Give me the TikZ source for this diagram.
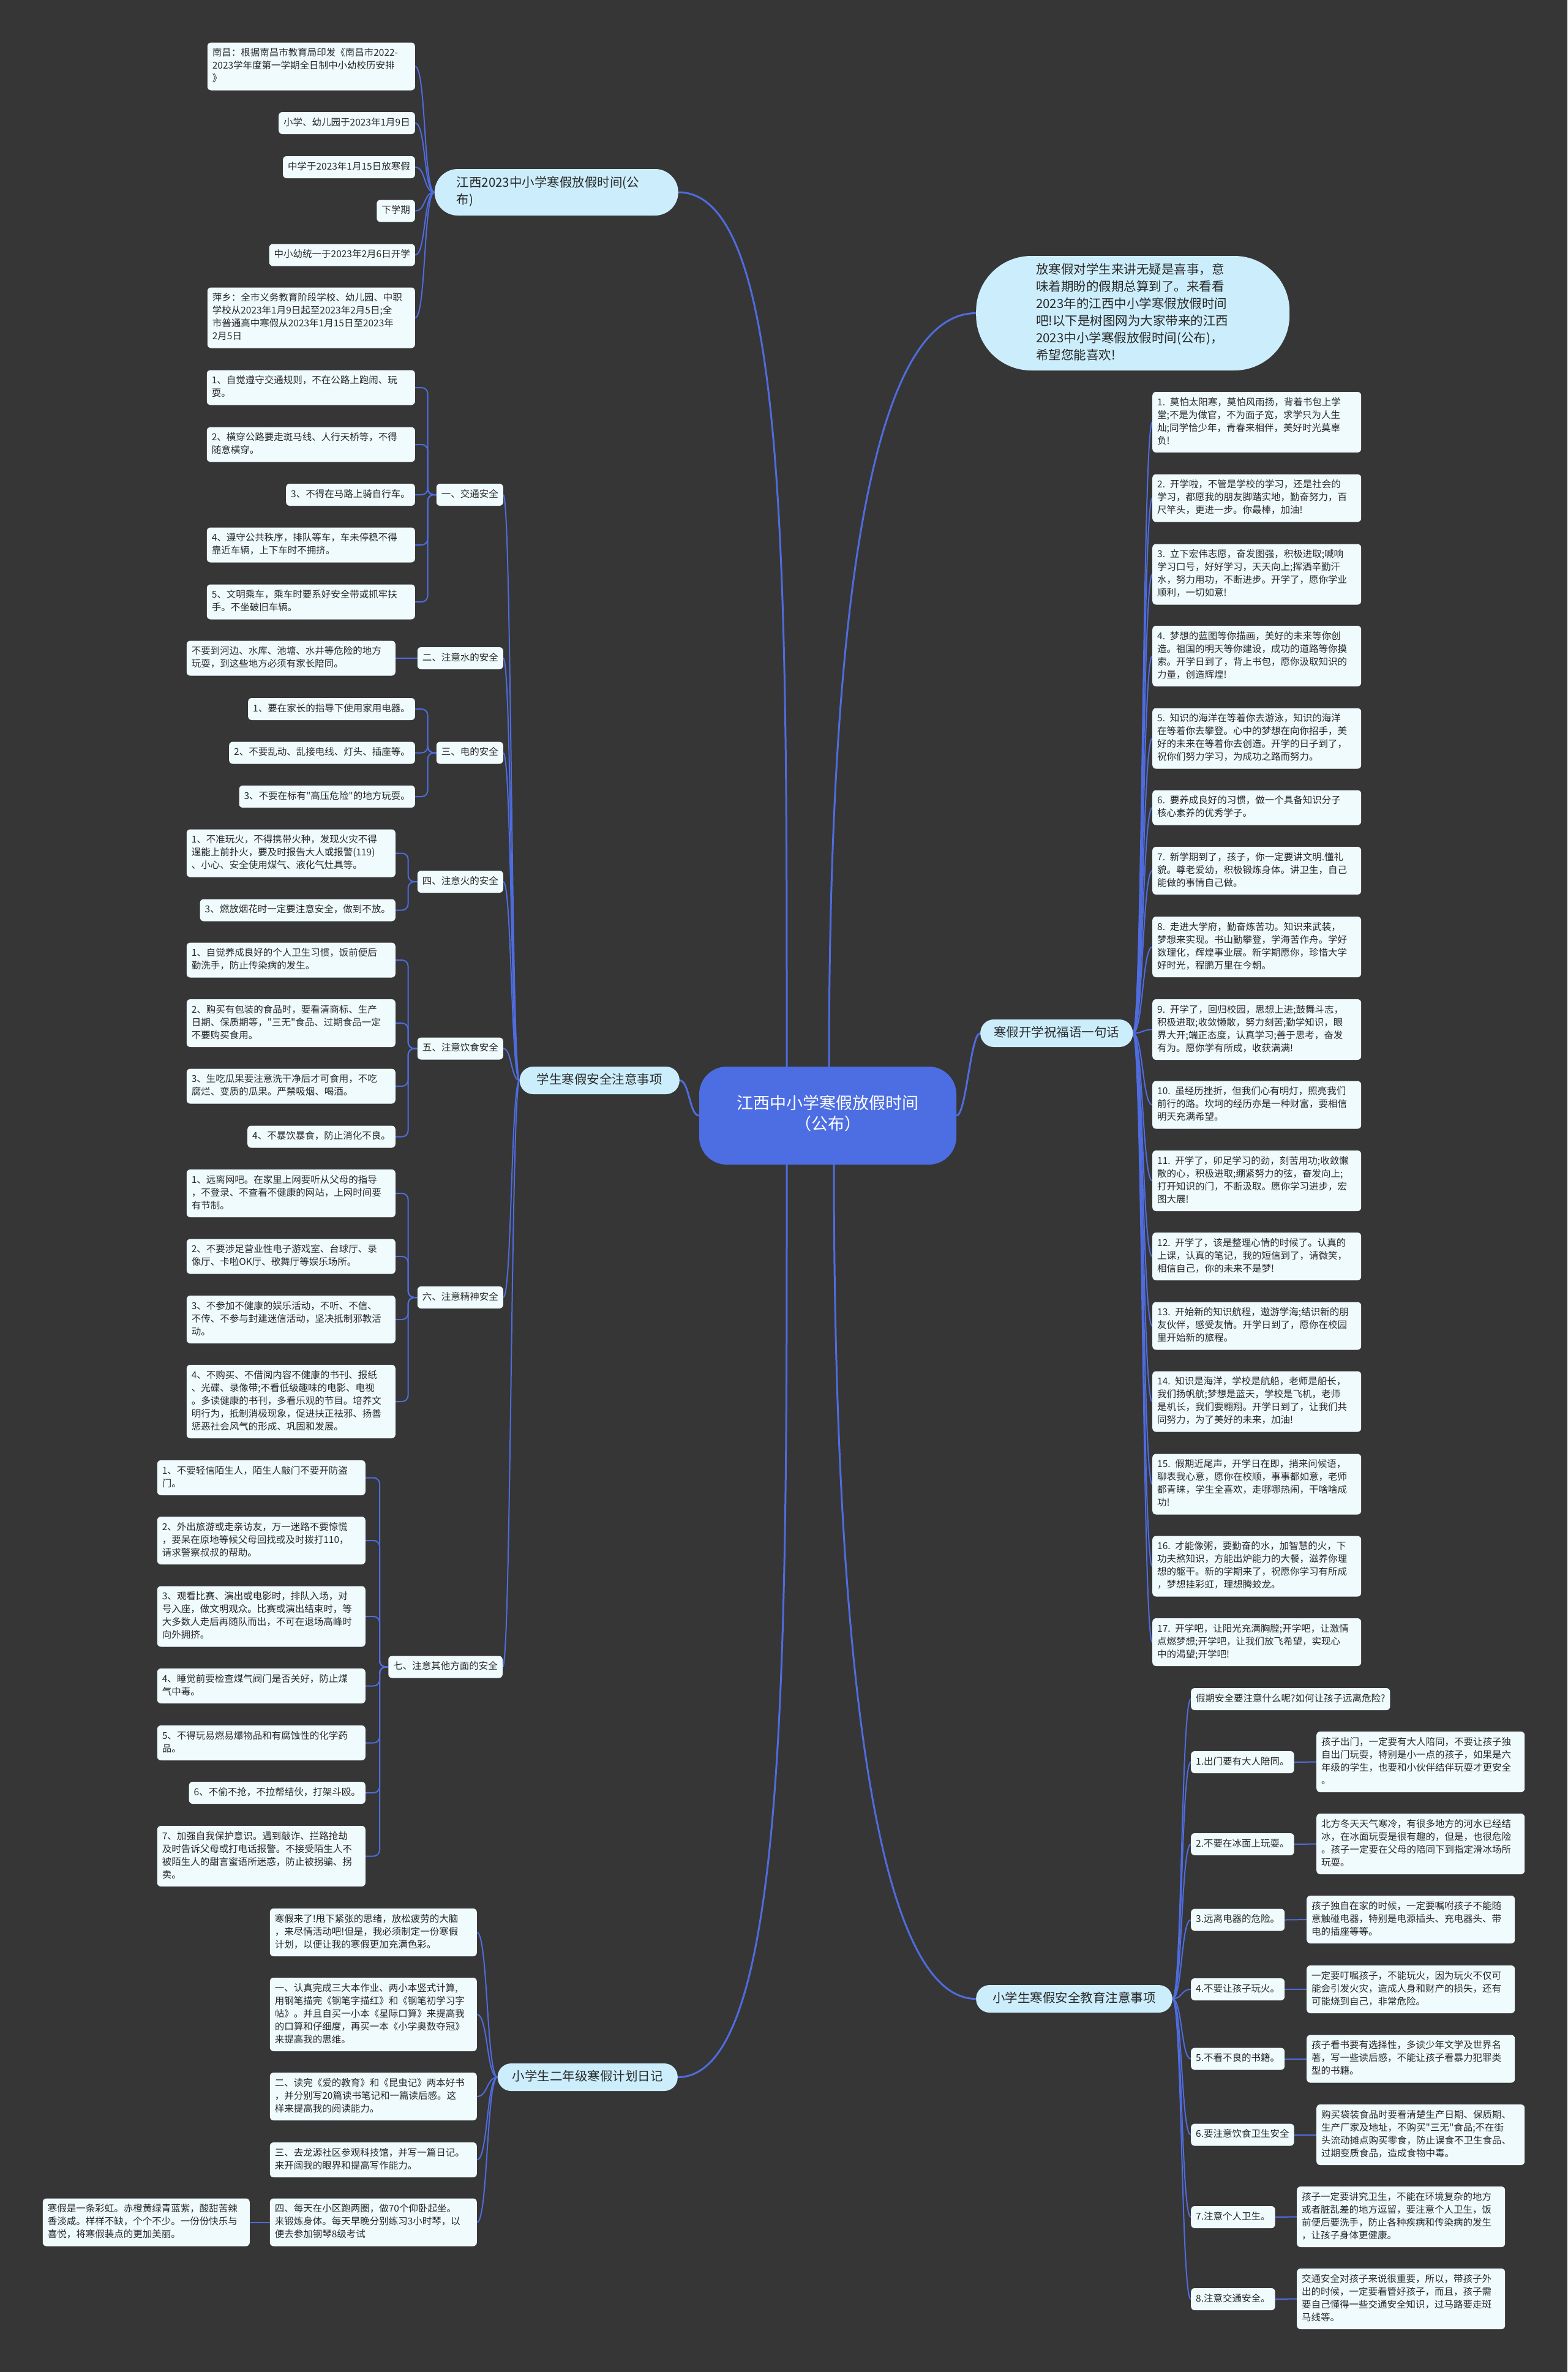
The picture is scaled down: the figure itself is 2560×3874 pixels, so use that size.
\documentclass[tikz,border=0pt]{standalone}
\usepackage{fontspec}
\setmainfont{Noto Sans CJK SC}[Ligatures=TeXOff]
\definecolor{bgDark}{RGB}{54,54,54}
\definecolor{lineBlue}{RGB}{79,108,222}
\definecolor{rootBlue}{RGB}{77,110,226}
\definecolor{branchSky}{RGB}{204,238,252}
\definecolor{leafWhite}{RGB}{240,251,254}
\definecolor{textDark}{RGB}{40,40,40}
\pgfdeclarelayer{bg}
\pgfdeclarelayer{links}
\pgfsetlayers{bg,links,main}

\begin{document}
\begin{tikzpicture}[x=1pt, y=-1pt,
    root/.style={rectangle, rounded corners=45pt, fill=rootBlue, text=white,
      font=\fontsize{27}{34}\selectfont, align=center, text width=300pt,
      inner xsep=60pt, inner ysep=46pt,
      execute at begin node=\strut, execute at end node=\strut},
    branch/.style={rectangle, rounded corners=22pt, fill=branchSky, text=textDark,
      font=\fontsize{20.5}{28}\selectfont, inner xsep=26pt, inner ysep=8.5pt,
      execute at begin node=\strut, execute at end node=\strut},
    leaf/.style={rectangle, rounded corners=6pt, fill=leafWhite, text=textDark,
      font=\fontsize{15.5}{21}\selectfont, align=left, inner xsep=8pt, inner ysep=7.5pt,
      execute at begin node=\strut, execute at end node=\strut},
    link/.style={draw=lineBlue, line width=2pt},
    mainlink/.style={draw=lineBlue, line width=3pt},
  ]
  \useasboundingbox (0,0) rectangle (2560,3874);
  \begin{pgfonlayer}{bg}
    \fill[bgDark] (0,0) rectangle (2560,3874);
  \end{pgfonlayer}

  % root and main branches
  \node[root] (ctr) at (1352,1822) {江西中小学寒假放假时间\\（公布）};
  \node[branch, anchor=east, align=left, text width=326pt, inner xsep=36pt, inner ysep=10pt, rounded corners=38pt] (bTime) at (1108,314) {江西2023中小学寒假放假时间(公\\布)};
  \node[branch, anchor=east, inner xsep=28pt] (bSafe) at (1110,1764.5) {学生寒假安全注意事项};
  \node[branch, anchor=east, inner xsep=24pt] (bDiary) at (1107,3392.5) {小学生二年级寒假计划日记};
  \node[branch, anchor=west, align=left, text width=316pt, inner xsep=98pt, inner ysep=9.5pt, rounded corners=90pt] (rIntro) at (1594,511.5) {放寒假对学生来讲无疑是喜事，意\\味着期盼的假期总算到了。来看看\\2023年的江西中小学寒假放假时间\\吧!以下是树图网为大家带来的江西\\2023中小学寒假放假时间(公布)，\\希望您能喜欢!};
  \node[branch, anchor=west, inner xsep=22pt] (rWish) at (1601,1687.5) {寒假开学祝福语一句话};
  \node[branch, anchor=west, inner xsep=27pt] (rEdu) at (1594,3264.5) {小学生寒假安全教育注意事项};

  % dates
  \node[leaf, anchor=east, text width=323pt] (t1) at (678,108.5) {南昌：根据南昌市教育局印发《南昌市2022-\\2023学年度第一学期全日制中小幼校历安排\\》};
  \node[leaf, anchor=east] (t2) at (678,201) {小学、幼儿园于2023年1月9日};
  \node[leaf, anchor=east] (t3) at (678,273) {中学于2023年1月15日放寒假};
  \node[leaf, anchor=east] (t4) at (678,344.5) {下学期};
  \node[leaf, anchor=east] (t5) at (678,416.5) {中小幼统一于2023年2月6日开学};
  \node[leaf, anchor=east, text width=323pt] (t6) at (678,519) {萍乡：全市义务教育阶段学校、幼儿园、中职\\学校从2023年1月9日起至2023年2月5日;全\\市普通高中寒假从2023年1月15日至2023年\\2月5日};

  % safety topics
  \node[leaf, anchor=east] (s1) at (822,808) {一、交通安全};
  \node[leaf, anchor=east, text width=324pt] (s1a) at (678,633) {1、自觉遵守交通规则，不在公路上跑闹、玩\\耍。};
  \node[leaf, anchor=east, text width=324pt] (s1b) at (678,726) {2、横穿公路要走斑马线、人行天桥等，不得\\随意横穿。};
  \node[leaf, anchor=east] (s1c) at (678,808) {3、不得在马路上骑自行车。};
  \node[leaf, anchor=east, text width=324pt] (s1d) at (678,890) {4、遵守公共秩序，排队等车，车未停稳不得\\靠近车辆，上下车时不拥挤。};
  \node[leaf, anchor=east, text width=324pt] (s1e) at (678,983) {5、文明乘车，乘车时要系好安全带或抓牢扶\\手。不坐破旧车辆。};

  \node[leaf, anchor=east] (s2) at (822,1075) {二、注意水的安全};
  \node[leaf, anchor=east, text width=325pt] (s2a) at (646,1075) {不要到河边、水库、池塘、水井等危险的地方\\玩耍，到这些地方必须有家长陪同。};

  \node[leaf, anchor=east] (s3) at (822,1229.5) {三、电的安全};
  \node[leaf, anchor=east] (s3a) at (678,1158) {1、要在家长的指导下使用家用电器。};
  \node[leaf, anchor=east] (s3b) at (678,1229.5) {2、不要乱动、乱接电线、灯头、插座等。};
  \node[leaf, anchor=east] (s3c) at (678,1301) {3、不要在标有"高压危险"的地方玩耍。};

  \node[leaf, anchor=east] (s4) at (822,1440) {四、注意火的安全};
  \node[leaf, anchor=east, text width=325pt] (s4a) at (646,1393.5) {1、不准玩火，不得携带火种，发现火灾不得\\逞能上前扑火，要及时报告大人或报警(119)\\、小心、安全使用煤气、液化气灶具等。};
  \node[leaf, anchor=east] (s4b) at (646,1486.5) {3、燃放烟花时一定要注意安全，做到不放。};

  \node[leaf, anchor=east] (s5) at (822,1712.5) {五、注意饮食安全};
  \node[leaf, anchor=east, text width=325pt] (s5a) at (646,1568) {1、自觉养成良好的个人卫生习惯，饭前便后\\勤洗手，防止传染病的发生。};
  \node[leaf, anchor=east, text width=325pt] (s5b) at (646,1671) {2、购买有包装的食品时，要看清商标、生产\\日期、保质期等，"三无"食品、过期食品一定\\不要购买食用。};
  \node[leaf, anchor=east, text width=325pt] (s5c) at (646,1774) {3、生吃瓜果要注意洗干净后才可食用，不吃\\腐烂、变质的瓜果。严禁吸烟、喝酒。};
  \node[leaf, anchor=east] (s5d) at (646,1856.5) {4、不暴饮暴食，防止消化不良。};

  \node[leaf, anchor=east] (s6) at (822,2119) {六、注意精神安全};
  \node[leaf, anchor=east, text width=325pt] (s6a) at (646,1949) {1、远离网吧。在家里上网要听从父母的指导\\，不登录、不查看不健康的网站，上网时间要\\有节制。};
  \node[leaf, anchor=east, text width=325pt] (s6b) at (646,2052) {2、不要涉足营业性电子游戏室、台球厅、录\\像厅、卡啦OK厅、歌舞厅等娱乐场所。};
  \node[leaf, anchor=east, text width=325pt] (s6c) at (646,2155) {3、不参加不健康的娱乐活动，不听、不信、\\不传、不参与封建迷信活动，坚决抵制邪教活\\动。};
  \node[leaf, anchor=east, text width=325pt] (s6d) at (646,2289) {4、不购买、不借阅内容不健康的书刊、报纸\\、光碟、录像带;不看低级趣味的电影、电视\\。多读健康的书刊，多看乐观的节目。培养文\\明行为，抵制消极现象，促进扶正祛邪、扬善\\惩恶社会风气的形成、巩固和发展。};

  \node[leaf, anchor=east] (s7) at (821,2722.5) {七、注意其他方面的安全};
  \node[leaf, anchor=east, text width=324pt] (s7a) at (597,2413.5) {1、不要轻信陌生人，陌生人敲门不要开防盗\\门。};
  \node[leaf, anchor=east, text width=324pt] (s7b) at (597,2516) {2、外出旅游或走亲访友，万一迷路不要惊慌\\，要呆在原地等候父母回找或及时拨打110，\\请求警察叔叔的帮助。};
  \node[leaf, anchor=east, text width=324pt] (s7c) at (597,2640) {3、观看比赛、演出或电影时，排队入场，对\\号入座，做文明观众。比赛或演出结束时，等\\大多数人走后再随队而出，不可在退场高峰时\\向外拥挤。};
  \node[leaf, anchor=east, text width=324pt] (s7d) at (597,2753.5) {4、睡觉前要检查煤气阀门是否关好，防止煤\\气中毒。};
  \node[leaf, anchor=east, text width=324pt] (s7e) at (597,2846.5) {5、不得玩易燃易爆物品和有腐蚀性的化学药\\品。};
  \node[leaf, anchor=east] (s7f) at (597,2928) {6、不偷不抢，不拉帮结伙，打架斗殴。};
  \node[leaf, anchor=east, text width=324pt] (s7g) at (597,3031.5) {7、加强自我保护意识。遇到敲诈、拦路抢劫\\及时告诉父母或打电话报警。不接受陌生人不\\被陌生人的甜言蜜语所迷惑，防止被拐骗、拐\\卖。};

  % diary
  \node[leaf, anchor=east, text width=322pt] (d1) at (779,3156) {寒假来了!甩下紧张的思绪，放松疲劳的大脑\\，来尽情活动吧!但是，我必须制定一份寒假\\计划，以便让我的寒假更加充满色彩。};
  \node[leaf, anchor=east, text width=322pt] (d2) at (779,3290) {一、认真完成三大本作业、两小本竖式计算,\\用钢笔描完《钢笔字描红》和《钢笔初学习字\\帖》。并且自买一小本《星际口算》来提高我\\的口算和仔细度，再买一本《小学奥数夺冠》\\来提高我的思维。};
  \node[leaf, anchor=east, text width=322pt] (d3) at (779,3424) {二、读完《爱的教育》和《昆虫记》两本好书\\，并分别写20篇读书笔记和一篇读后感。这\\样来提高我的阅读能力。};
  \node[leaf, anchor=east, text width=322pt] (d4) at (779,3527.5) {三、去龙源社区参观科技馆，并写一篇日记。\\来开阔我的眼界和提高写作能力。};
  \node[leaf, anchor=east, text width=322pt] (d5) at (779,3629.5) {四、每天在小区跑两圈，做70个仰卧起坐。\\来锻炼身体。每天早晚分别练习3小时琴，以\\便去参加钢琴8级考试};
  \node[leaf, anchor=east, text width=322pt] (e1) at (408,3629.5) {寒假是一条彩虹。赤橙黄绿青蓝紫，酸甜苦辣\\香淡咸。样样不缺，个个不少。一份份快乐与\\喜悦，将寒假装点的更加美丽。};

  % wishes
  \node[leaf, anchor=west, text width=325pt] (w1) at (1882,689.5) {1. 莫怕太阳寒，莫怕风雨扬，背着书包上学\\堂;不是为做官，不为面子宽，求学只为人生\\灿;同学恰少年，青春来相伴，美好时光莫辜\\负!};
  \node[leaf, anchor=west, text width=325pt] (w2) at (1882,813.5) {2. 开学啦，不管是学校的学习，还是社会的\\学习，都愿我的朋友脚踏实地，勤奋努力，百\\尺竿头，更进一步。你最棒，加油!};
  \node[leaf, anchor=west, text width=325pt] (w3) at (1882,938) {3. 立下宏伟志愿，奋发图强，积极进取;喊响\\学习口号，好好学习，天天向上;挥洒辛勤汗\\水，努力用功，不断进步。开学了，愿你学业\\顺利，一切如意!};
  \node[leaf, anchor=west, text width=325pt] (w4) at (1882,1071.5) {4. 梦想的蓝图等你描画，美好的未来等你创\\造。祖国的明天等你建设，成功的道路等你摸\\索。开学日到了，背上书包，愿你汲取知识的\\力量，创造辉煌!};
  \node[leaf, anchor=west, text width=325pt] (w5) at (1882,1206) {5. 知识的海洋在等着你去游泳，知识的海洋\\在等着你去攀登。心中的梦想在向你招手，美\\好的未来在等着你去创造。开学的日子到了，\\祝你们努力学习，为成功之路而努力。};
  \node[leaf, anchor=west, text width=325pt] (w6) at (1882,1319) {6. 要养成良好的习惯，做一个具备知识分子\\核心素养的优秀学子。};
  \node[leaf, anchor=west, text width=325pt] (w7) at (1882,1422) {7. 新学期到了，孩子，你一定要讲文明.懂礼\\貌。尊老爱幼，积极锻炼身体。讲卫生，自己\\能做的事情自己做。};
  \node[leaf, anchor=west, text width=325pt] (w8) at (1882,1546.5) {8. 走进大学府，勤奋炼苦功。知识来武装，\\梦想来实现。书山勤攀登，学海苦作舟。学好\\数理化，辉煌事业展。新学期愿你，珍惜大学\\好时光，程鹏万里在今朝。};
  \node[leaf, anchor=west, text width=325pt] (w9) at (1882,1681.5) {9. 开学了，回归校园，思想上进;鼓舞斗志，\\积极进取;收敛懒散，努力刻苦;勤学知识，眼\\界大开;端正态度，认真学习;善于思考，奋发\\有为。愿你学有所成，收获满满!};
  \node[leaf, anchor=west, text width=325pt] (w10) at (1882,1804.5) {10. 虽经历挫折，但我们心有明灯，照亮我们\\前行的路。坎坷的经历亦是一种财富，要相信\\明天充满希望。};
  \node[leaf, anchor=west, text width=325pt] (w11) at (1882,1928.5) {11. 开学了，卯足学习的劲，刻苦用功;收敛懒\\散的心，积极进取;绷紧努力的弦，奋发向上;\\打开知识的门，不断汲取。愿你学习进步，宏\\图大展!};
  \node[leaf, anchor=west, text width=325pt] (w12) at (1882,2052) {12. 开学了，该是整理心情的时候了。认真的\\上课，认真的笔记，我的短信到了，请微笑，\\相信自己，你的未来不是梦!};
  \node[leaf, anchor=west, text width=325pt] (w13) at (1882,2165.5) {13. 开始新的知识航程，遨游学海;结识新的朋\\友伙伴，感受友情。开学日到了，愿你在校园\\里开始新的旅程。};
  \node[leaf, anchor=west, text width=325pt] (w14) at (1882,2289) {14. 知识是海洋，学校是航船，老师是船长，\\我们扬帆航;梦想是蓝天，学校是飞机，老师\\是机长，我们要翱翔。开学日到了，让我们共\\同努力，为了美好的未来，加油!};
  \node[leaf, anchor=west, text width=325pt] (w15) at (1882,2424) {15. 假期近尾声，开学日在即，捎来问候语，\\聊表我心意，愿你在校顺，事事都如意，老师\\都青睐，学生全喜欢，走哪哪热闹，干啥啥成\\功!};
  \node[leaf, anchor=west, text width=325pt] (w16) at (1882,2558) {16. 才能像粥，要勤奋的水，加智慧的火，下\\功夫熬知识，方能出炉能力的大餐，滋养你理\\想的躯干。新的学期来了，祝愿你学习有所成\\，梦想挂彩虹，理想腾蛟龙。};
  \node[leaf, anchor=west, text width=325pt] (w17) at (1882,2682) {17. 开学吧，让阳光充满胸膛;开学吧，让激情\\点燃梦想;开学吧，让我们放飞希望，实现心\\中的渴望;开学吧!};

  % safety education
  \node[leaf, anchor=west] (k0) at (1945,2775) {假期安全要注意什么呢?如何让孩子远离危险?};
  \node[leaf, anchor=west] (k1) at (1945,2878) {1.出门要有大人陪同。};
  \node[leaf, anchor=west, text width=324pt] (k1d) at (2150,2877.5) {孩子出门，一定要有大人陪同，不要让孩子独\\自出门玩耍，特别是小一点的孩子，如果是六\\年级的学生，也要和小伙伴结伴玩耍才更安全\\。};
  \node[leaf, anchor=west] (k2) at (1945,3012) {2.不要在冰面上玩耍。};
  \node[leaf, anchor=west, text width=324pt] (k2d) at (2150,3011.5) {北方冬天天气寒冷，有很多地方的河水已经结\\冰，在冰面玩耍是很有趣的，但是，也很危险\\。孩子一定要在父母的陪同下到指定滑冰场所\\玩耍。};
  \node[leaf, anchor=west] (k3) at (1945,3135.5) {3.远离电器的危险。};
  \node[leaf, anchor=west, text width=324pt] (k3d) at (2134,3135) {孩子独自在家的时候，一定要嘱咐孩子不能随\\意触碰电器，特别是电源插头、充电器头、带\\电的插座等等。};
  \node[leaf, anchor=west] (k4) at (1945,3249) {4.不要让孩子玩火。};
  \node[leaf, anchor=west, text width=324pt] (k4d) at (2134,3249) {一定要叮嘱孩子，不能玩火，因为玩火不仅可\\能会引发火灾，造成人身和财产的损失，还有\\可能烧到自己，非常危险。};
  \node[leaf, anchor=west] (k5) at (1945,3362.5) {5.不看不良的书籍。};
  \node[leaf, anchor=west, text width=324pt] (k5d) at (2134,3362.5) {孩子看书要有选择性，多读少年文学及世界名\\著，写一些读后感，不能让孩子看暴力犯罪类\\型的书籍。};
  \node[leaf, anchor=west] (k6) at (1945,3486.5) {6.要注意饮食卫生安全};
  \node[leaf, anchor=west, text width=324pt] (k6d) at (2150,3486.5) {购买袋装食品时要看清楚生产日期、保质期、\\生产厂家及地址，不购买"三无"食品;不在街\\头流动摊点购买零食，防止误食不卫生食品、\\过期变质食品，造成食物中毒。};
  \node[leaf, anchor=west] (k7) at (1945,3621) {7.注意个人卫生。};
  \node[leaf, anchor=west, text width=324pt] (k7d) at (2118,3620.5) {孩子一定要讲究卫生，不能在环境复杂的地方\\或者脏乱差的地方逗留，要注意个人卫生，饭\\前便后要洗手，防止各种疾病和传染病的发生\\，让孩子身体更健康。};
  \node[leaf, anchor=west] (k8) at (1945,3755) {8.注意交通安全。};
  \node[leaf, anchor=west, text width=324pt] (k8d) at (2118,3754.5) {交通安全对孩子来说很重要，所以，带孩子外\\出的时候，一定要看管好孩子，而且，孩子需\\要自己懂得一些交通安全知识，过马路要走斑\\马线等。};

  % connectors
  \begin{pgfonlayer}{links}
    \draw[mainlink] ([xshift=-67pt]ctr.north) .. controls +(0,-800) and +(180,0) .. (bTime.east);
    \draw[mainlink] (ctr.west) .. controls +(-16,0) and +(16,0) .. (bSafe.east);
    \draw[mainlink] ([xshift=-67pt]ctr.south) .. controls +(0,800) and +(180,0) .. (bDiary.east);
    \draw[mainlink] ([xshift=2pt]ctr.north) .. controls +(0,-700) and +(-180,0) .. (rIntro.west);
    \draw[mainlink] (ctr.east) .. controls +(16,0) and +(-16,0) .. (rWish.east -| rWish.west);
    \draw[mainlink] ([xshift=10pt]ctr.south) .. controls +(0,700) and +(-180,0) .. (rEdu.west);

    \foreach \n in {t1,t2,t3,t4,t5,t6}
      \draw[link] (bTime.west) .. controls +(-18,0) and +(18,0) .. (\n.east);
    \foreach \n in {s1,s2,s3,s4,s5,s6,s7}
      \draw[link] (bSafe.west) .. controls +(-14,0) and +(14,0) .. (\n.east);
    \foreach \n in {d1,d2,d3,d4,d5}
      \draw[link] (bDiary.west) .. controls +(-18,0) and +(18,0) .. (\n.east);
    \draw[link] (d5.west) -- (e1.east);
    \foreach \n in {w1,w2,w3,w4,w5,w6,w7,w8,w9,w10,w11,w12,w13,w14,w15,w16,w17}
      \draw[link] (rWish.east) .. controls +(16,0) and +(-16,0) .. (\n.west);
    \foreach \n in {k0,k1,k2,k3,k4,k5,k6,k7,k8}
      \draw[link] (rEdu.east) .. controls +(16,0) and +(-16,0) .. (\n.west);
    \foreach \i in {1,...,8}
      \draw[link] (k\i.east) -- (k\i d.west);

    % elbows from topics to items
    \foreach \n in {s1a,s1b,s1c,s1d,s1e}
      \draw[link, rounded corners=10pt] (s1.west) -- ++(-14,0) |- (\n.east);
    \draw[link] (s2.west) -- (s2a.east);
    \foreach \n in {s3a,s3b,s3c}
      \draw[link, rounded corners=10pt] (s3.west) -- ++(-14,0) |- (\n.east);
    \foreach \n in {s4a,s4b}
      \draw[link, rounded corners=10pt] (s4.west) -- ++(-15,0) |- (\n.east);
    \foreach \n in {s5a,s5b,s5c,s5d}
      \draw[link, rounded corners=10pt] (s5.west) -- ++(-15,0) |- (\n.east);
    \foreach \n in {s6a,s6b,s6c,s6d}
      \draw[link, rounded corners=10pt] (s6.west) -- ++(-15,0) |- (\n.east);
    \foreach \n in {s7a,s7b,s7c,s7d,s7e,s7f,s7g}
      \draw[link, rounded corners=10pt] (s7.west) -- ++(-14,0) |- (\n.east);
  \end{pgfonlayer}
\end{tikzpicture}
\end{document}
